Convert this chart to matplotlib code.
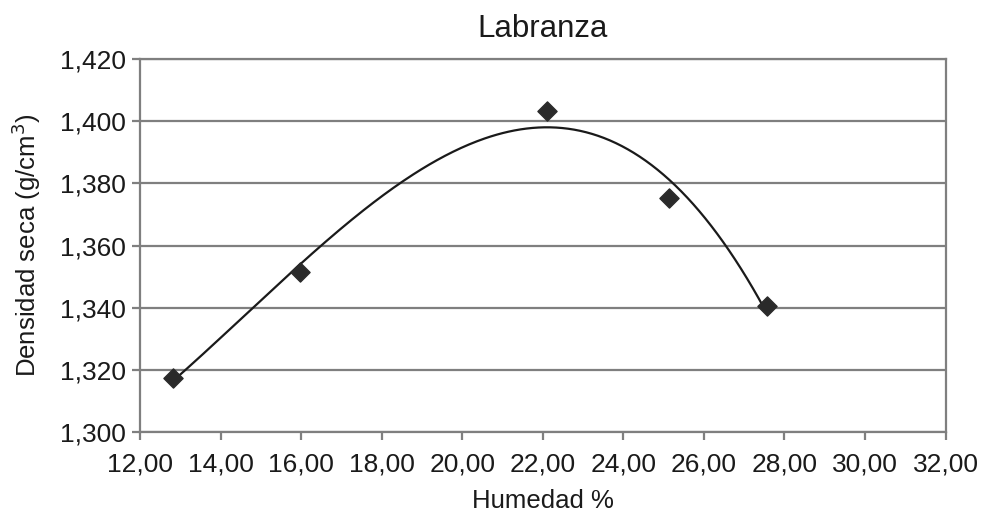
import matplotlib
matplotlib.use('Agg')
import matplotlib.pyplot as plt
from matplotlib.ticker import FuncFormatter
import numpy as np

plt.rcParams['font.family'] = ['Liberation Sans', 'DejaVu Sans']

# datos
humedad = [12.82, 15.97, 22.10, 25.13, 27.56]
densidad = [1.3174, 1.3515, 1.4033, 1.3753, 1.3405]

# linea de tendencia polinomica (grado 3)
coef = np.polyfit(humedad, densidad, 3)
xs = np.linspace(min(humedad), max(humedad), 300)
ys = np.polyval(coef, xs)

fig = plt.figure(figsize=(9.86, 5.2), dpi=100)
ax = fig.add_axes([0.142, 0.169, 0.817, 0.7175])

gris = '#7f7f7f'
ax.set_axisbelow(True)
ax.yaxis.grid(True, color=gris, linewidth=1.6)
ax.plot(xs, ys, color='#1a1a1a', linewidth=1.6)
ax.scatter(humedad, densidad, marker='D', s=95, color='#2a2a2a', zorder=3)

ax.set_xlim(12, 32)
ax.set_ylim(1.300, 1.420)
ax.set_xticks(np.arange(12, 33, 2))
ax.set_yticks(np.arange(1.300, 1.4201, 0.020))
ax.xaxis.set_major_formatter(FuncFormatter(lambda v, p: f'{v:.2f}'.replace('.', ',')))
ax.yaxis.set_major_formatter(FuncFormatter(lambda v, p: f'{v:.3f}'.replace('.', ',')))

for s in ax.spines.values():
    s.set_color(gris)
    s.set_linewidth(1.6)
ax.tick_params(colors=gris, width=1.6, length=6, labelsize=19, labelcolor='#1a1a1a')
ax.tick_params(axis='x', pad=9)
ax.tick_params(axis='y', pad=4)

ax.set_title('Labranza', fontsize=22.5, color='#1a1a1a', pad=16)
ax.set_xlabel('Humedad %', fontsize=18.5, color='#1a1a1a', labelpad=9)
ax.set_ylabel('Densidad seca (g/cm$^3$)', fontsize=18.5, color='#1a1a1a', labelpad=12)

fig.savefig('out.png', dpi=100)
